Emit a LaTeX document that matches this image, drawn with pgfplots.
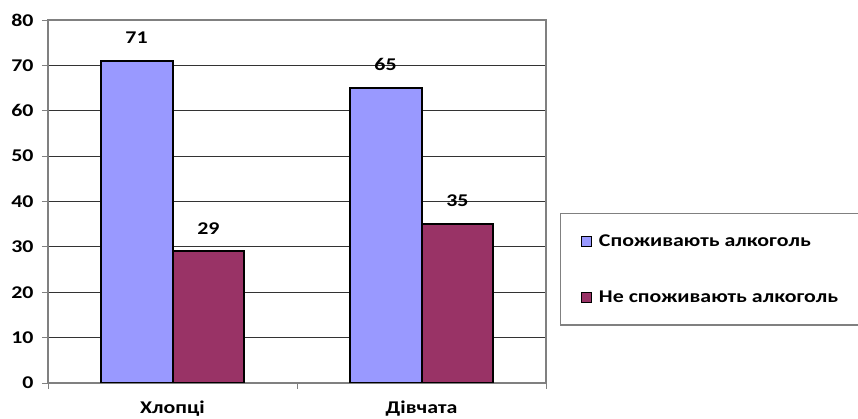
\documentclass[border=0pt]{standalone}
\usepackage{fontspec}
\setmainfont{Carlito}[FakeStretch=1.22]
\usepackage{pgfplots}
\pgfplotsset{compat=1.18}
\definecolor{useBlue}{HTML}{9999FF}
\definecolor{noMaroon}{HTML}{993366}
\definecolor{frameGray}{HTML}{808080}
\newcommand{\lblfont}{\bfseries\fontsize{18}{21}\selectfont}
\begin{document}
\begin{tikzpicture}
\useasboundingbox (0,0) rectangle (858bp,419bp);
\begin{axis}[
  at={(48bp,36bp)}, anchor=south west,
  scale only axis,
  width=498bp, height=363bp,
  xmin=-0.5, xmax=1.5,
  ymin=0, ymax=80,
  ytick={0,10,...,80},
  xtick={-0.5,0.5,1.5},
  xticklabels={},
  extra x ticks={0,1},
  extra x tick labels={Хлопці,Дівчата},
  extra x tick style={major tick length=0pt, grid=none,
    xticklabel style={yshift=-14bp}},
  tick pos=left,
  tick align=outside,
  major tick length=6bp,
  tick style={frameGray, line width=1bp},
  axis line style={frameGray, line width=1.6bp},
  ymajorgrids,
  grid style={black!80, line width=0.9bp},
  /pgf/number format/assume math mode=true,
  tick label style={font=\lblfont},
  yticklabel style={xshift=-5bp},
  ybar,
  bar width=0.289,
  nodes near coords,
  every node near coord/.append style={font=\lblfont, black, yshift=13bp},
  legend style={
    at={(1.0281,0.468)}, anchor=north west,
    draw=frameGray, line width=1.2bp,
    font=\lblfont,
    inner xsep=20bp, inner ysep=19bp,
    row sep=39bp,
    cells={anchor=west},
    /tikz/every odd column/.append style={column sep=5bp},
  },
  legend image code/.code={
    \draw[#1, draw=black, line width=1.4bp] (0bp,-5bp) rectangle (10bp,5bp);
  },
]
\addplot[fill=useBlue, draw=black, line width=2bp, bar shift=-0.1445]
  coordinates {(0,71) (1,65)};
\addplot[fill=noMaroon, draw=black, line width=2bp, bar shift=0.1445]
  coordinates {(0,29) (1,35)};
\legend{Споживають алкоголь, Не споживають алкоголь}
\end{axis}
\end{tikzpicture}
\end{document}
